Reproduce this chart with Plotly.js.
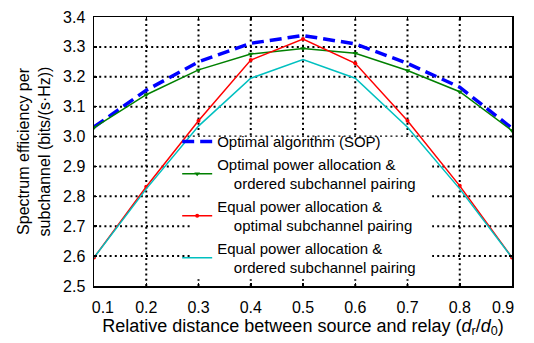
<!DOCTYPE html>
<html><head><meta charset="utf-8">
<script src="https://cdn.plot.ly/plotly-3.0.1.min.js"></script>
<style>html,body{margin:0;padding:0;background:#fff}#chart{width:534px;height:343px}</style>
</head><body><div id="chart"></div>
<script>
const distance = [0.1, 0.2, 0.3, 0.4, 0.5, 0.6, 0.7, 0.8, 0.9];
const sop = [3.032, 3.155, 3.25, 3.312, 3.338, 3.31, 3.245, 3.165, 3.028];
const optPowerOrdered = [3.03, 3.14, 3.223, 3.276, 3.295, 3.279, 3.221, 3.15, 3.02];
const eqPowerOptimal = [2.595, 2.832, 3.053, 3.256, 3.326, 3.245, 3.053, 2.835, 2.595];
const eqPowerOrdered = [2.595, 2.825, 3.035, 3.195, 3.258, 3.195, 3.031, 2.825, 2.595];
const seriesNames = [
  "Optimal algorithm (SOP)",
  "Optimal power allocation &<br>\u00a0\u00a0\u00a0\u00a0ordered subchannel pairing",
  "Equal power allocation &<br>\u00a0\u00a0\u00a0\u00a0optimal subchannel pairing",
  "Equal power allocation &<br>\u00a0\u00a0\u00a0\u00a0ordered subchannel pairing"
];
const xTicks = [0.1,0.2,0.3,0.4,0.5,0.6,0.7,0.8,0.9];
const xTickText = ["\u00a0\u00a0\u00a0\u00a00.1","0.2","0.3","0.4","0.5","0.6","0.7","0.8","0.9\u00a0\u00a0\u00a0\u00a0"];
const yTicks = [2.5,2.6,2.7,2.8,2.9,3.0,3.1,3.2,3.3,3.4];

const traces = [
  {x: distance, y: sop, name: seriesNames[0], mode: "lines",
   line: {color: "#0000ff", width: 3.5, dash: "12px,6px"}},
  {x: distance, y: optPowerOrdered, name: seriesNames[1], mode: "lines+markers",
   line: {color: "#008000", width: 1.5}, marker: {symbol: "triangle-down", size: 5, color: "#008000"}},
  {x: distance, y: eqPowerOptimal, name: seriesNames[2], mode: "lines+markers",
   line: {color: "#ff0000", width: 1.5}, marker: {symbol: "circle", size: 4, color: "#ff0000"}},
  {x: distance, y: eqPowerOrdered, name: seriesNames[3], mode: "lines",
   line: {color: "#00c0c0", width: 1.5}}
];

const gridLine = {color: "#000", width: 2, dash: "2px,3.2px"};
const shapes = [];
xTicks.slice(1, -1).forEach(v => shapes.push({type: "line", xref: "x", yref: "paper",
  x0: v, x1: v, y0: 0, y1: 1, line: gridLine, layer: "below"}));
yTicks.slice(1, -1).forEach(v => shapes.push({type: "line", xref: "paper", yref: "y",
  x0: 0, x1: 1, y0: v, y1: v, line: gridLine, layer: "below"}));
// white legend backdrop hiding the grid (but not the data lines)
shapes.push({type: "rect", xref: "paper", yref: "paper", x0: 0.23, x1: 0.809, y0: 0.025, y1: 0.555,
             fillcolor: "#fff", line: {width: 0}, layer: "below"});

const axisCommon = {
  showline: true, linecolor: "#000", linewidth: 1.5, mirror: "ticks",
  ticks: "inside", ticklen: 3, tickcolor: "#000", tickwidth: 1.5,
  showgrid: false, zeroline: false, tickfont: {size: 16, color: "#000"}
};

const layout = {
  width: 534, height: 343,
  margin: {l: 94, r: 22, t: 17, b: 57},
  paper_bgcolor: "#fff", plot_bgcolor: "#fff",
  font: {family: "Liberation Sans, Arial, sans-serif", color: "#000"},
  xaxis: Object.assign({}, axisCommon, {
    range: [0.1, 0.9], tickvals: xTicks, ticktext: xTickText, ticklabelstandoff: 6,
    title: {text: "Relative distance between source and relay (<i>d</i><sub>r</sub>/<i>d</i><sub>0</sub>)",
            font: {size: 18, color: "#000"}, standoff: 4}
  }),
  yaxis: Object.assign({}, axisCommon, {
    range: [2.5, 3.4], tickvals: yTicks, ticktext: yTicks.map(v => v.toFixed(1)), ticklabelstandoff: 4,
    title: {text: "Spectrum efficiency per<br>subchannel (bits/(s·Hz))",
            font: {size: 16, color: "#000"}, standoff: 8}
  }),
  shapes: shapes,
  showlegend: true,
  legend: {x: 0.199, y: 0.598, xanchor: "left", yanchor: "top",
           bgcolor: "rgba(0,0,0,0)", borderwidth: 0, font: {size: 15, color: "#000"},
           tracegroupgap: 0, valign: "middle"}
};

Plotly.newPlot("chart", traces, layout, {staticPlot: true, displayModeBar: false});
</script></body></html>
